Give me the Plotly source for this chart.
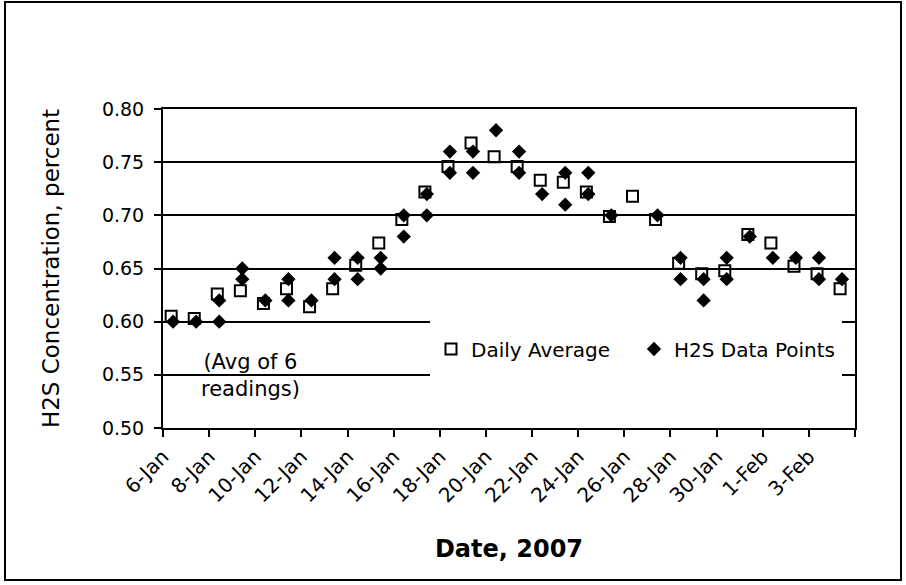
import pandas as pd
import plotly.graph_objects as go

# ---- data ----
avg_dates = ["2007-01-06", "2007-01-07", "2007-01-08", "2007-01-09", "2007-01-10",
             "2007-01-11", "2007-01-12", "2007-01-13", "2007-01-14", "2007-01-15",
             "2007-01-16", "2007-01-17", "2007-01-18", "2007-01-19", "2007-01-20",
             "2007-01-21", "2007-01-22", "2007-01-23", "2007-01-24", "2007-01-25",
             "2007-01-26", "2007-01-27", "2007-01-28", "2007-01-29", "2007-01-30",
             "2007-01-31", "2007-02-01", "2007-02-02", "2007-02-03", "2007-02-04"]
daily_avg = [0.605, 0.603, 0.626, 0.629, 0.617, 0.631, 0.614, 0.631, 0.653, 0.674,
             0.696, 0.722, 0.746, 0.768, 0.755, 0.746, 0.733, 0.731, 0.722, 0.699,
             0.718, 0.696, 0.655, 0.645, 0.648, 0.682, 0.674, 0.652, 0.645, 0.631]

pt_dates = ["2007-01-06", "2007-01-07", "2007-01-08", "2007-01-08", "2007-01-09", "2007-01-09",
            "2007-01-10", "2007-01-11", "2007-01-11", "2007-01-12", "2007-01-13", "2007-01-13",
            "2007-01-14", "2007-01-14", "2007-01-15", "2007-01-15", "2007-01-16", "2007-01-16",
            "2007-01-17", "2007-01-17", "2007-01-18", "2007-01-18", "2007-01-19", "2007-01-19",
            "2007-01-20", "2007-01-21", "2007-01-21", "2007-01-22", "2007-01-23", "2007-01-23",
            "2007-01-24", "2007-01-24", "2007-01-25", "2007-01-27", "2007-01-28", "2007-01-28",
            "2007-01-29", "2007-01-29", "2007-01-30", "2007-01-30", "2007-01-31", "2007-02-01",
            "2007-02-02", "2007-02-03", "2007-02-03", "2007-02-04"]
pt_values = [0.60, 0.60, 0.62, 0.60, 0.65, 0.64,
             0.62, 0.64, 0.62, 0.62, 0.66, 0.64,
             0.66, 0.64, 0.66, 0.65, 0.70, 0.68,
             0.72, 0.70, 0.76, 0.74, 0.76, 0.74,
             0.78, 0.76, 0.74, 0.72, 0.74, 0.71,
             0.74, 0.72, 0.70, 0.70, 0.66, 0.64,
             0.64, 0.62, 0.66, 0.64, 0.68, 0.66,
             0.66, 0.66, 0.64, 0.64]

y_ticks = [0.50, 0.55, 0.60, 0.65, 0.70, 0.75, 0.80]
x_tick_dates = ["2007-01-06", "2007-01-08", "2007-01-10", "2007-01-12", "2007-01-14",
                "2007-01-16", "2007-01-18", "2007-01-20", "2007-01-22", "2007-01-24",
                "2007-01-26", "2007-01-28", "2007-01-30", "2007-02-01", "2007-02-03",
                "2007-02-05"]
x_tick_labels = ["6-Jan", "8-Jan", "10-Jan", "12-Jan", "14-Jan", "16-Jan", "18-Jan",
                 "20-Jan", "22-Jan", "24-Jan", "26-Jan", "28-Jan", "30-Jan", "1-Feb",
                 "3-Feb", ""]

# time of day at which readings sit within each day
avg_x = pd.to_datetime(avg_dates) + pd.Timedelta(hours=8.5)
pt_x = pd.to_datetime(pt_dates) + pd.Timedelta(hours=10.5)

FONT = "DejaVu Sans"

fig = go.Figure()
fig.add_trace(go.Scatter(
    x=avg_x, y=daily_avg, mode="markers", name="Daily Average",
    marker=dict(symbol="square-open", size=11, color="black", line=dict(width=2, color="black")),
))
fig.add_trace(go.Scatter(
    x=pt_x, y=pt_values, mode="markers", name="H2S Data Points",
    marker=dict(symbol="diamond", size=11, color="black", line=dict(width=0)),
))

L, R, T, B = 163, 51, 109, 157
W, H = 906, 585
pw, ph = W - L - R, H - T - B

def px_x(p):
    return (p - L) / pw

def px_y(p):
    return (H - B - p) / ph

# white box behind the legend that hides the gridlines
fig.add_shape(type="rect", xref="paper", yref="paper",
              x0=px_x(430), x1=px_x(842), y0=px_y(380), y1=px_y(318),
              fillcolor="white", line=dict(width=0), layer="above")
# outer chart border
fig.add_shape(type="rect", xref="paper", yref="paper",
              x0=px_x(5), x1=px_x(901), y0=px_y(580), y1=px_y(2),
              fillcolor="rgba(0,0,0,0)", line=dict(width=2, color="black"), layer="above")

fig.add_annotation(text="(Avg of 6<br>readings)", xref="paper", yref="paper",
                   x=px_x(250), y=px_y(375), xanchor="center", yanchor="middle",
                   showarrow=False,
                   font=dict(family=FONT, size=21, color="black"), align="center")

fig.update_layout(
    width=W, height=H, template="none",
    margin=dict(l=L, r=R, t=T, b=B, pad=0, autoexpand=False),
    paper_bgcolor="white", plot_bgcolor="white",
    font=dict(family=FONT, color="black"),
    showlegend=True,
    legend=dict(orientation="h", x=px_x(431), y=px_y(349), xanchor="left", yanchor="middle",
                bgcolor="rgba(0,0,0,0)", borderwidth=0,
                font=dict(family=FONT, size=20, color="black"),
                entrywidth=158, entrywidthmode="pixels", itemwidth=30),
    xaxis=dict(
        type="date", range=["2007-01-06", "2007-02-05"],
        tickvals=pd.to_datetime(x_tick_dates), ticktext=x_tick_labels,
        tickangle=-45, ticks="outside", ticklen=7, tickwidth=2, tickcolor="black",
        showline=True, linecolor="black", linewidth=2, mirror=True,
        showgrid=False, zeroline=False, automargin=False,
        tickfont=dict(family=FONT, size=20, color="black"),
        title=dict(text="<b>Date, 2007</b>", font=dict(family=FONT, size=24, color="black"), standoff=34),
    ),
    yaxis=dict(
        range=[0.50, 0.80], tickvals=y_ticks, tickformat=".2f",
        ticks="outside", ticklen=7, tickwidth=2, tickcolor="black",
        showline=True, linecolor="black", linewidth=2, mirror=True,
        showgrid=True, gridcolor="black", gridwidth=1.5, zeroline=False, automargin=False,
        tickfont=dict(family=FONT, size=19, color="black"), ticklabelstandoff=6,
        title=dict(text="H2S Concentration, percent", font=dict(family=FONT, size=23, color="black"), standoff=36),
    ),
)

fig.write_html("out.html")
